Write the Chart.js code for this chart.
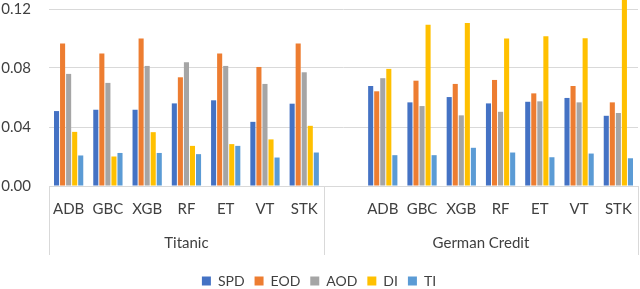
<!DOCTYPE html>
<html>
<head>
<meta charset="utf-8">
<script src="https://cdn.jsdelivr.net/npm/chart.js@4.4.1/dist/chart.umd.min.js"></script>
<style>
html,body{margin:0;padding:0;background:#fff;}
#wrap{width:640px;height:289px;position:relative;}
</style>
</head>
<body>
<div id="wrap"><canvas id="c" width="640" height="289"></canvas></div>
<script>
// ---- data ----
const titanicLabels = ['ADB','GBC','XGB','RF','ET','VT','STK'];
const germanLabels  = ['ADB','GBC','XGB','RF','ET','VT','STK'];
const groupLabels   = ['Titanic','German Credit'];
const seriesNames   = ['SPD','EOD','AOD','DI','TI'];
const yTicks        = [0, 0.04, 0.08, 0.12];

const spdTitanic = [0.0508, 0.0517, 0.0517, 0.0560, 0.0581, 0.0435, 0.0558];
const eodTitanic = [0.0966, 0.0898, 0.1000, 0.0737, 0.0898, 0.0807, 0.0966];
const aodTitanic = [0.0760, 0.0699, 0.0814, 0.0839, 0.0814, 0.0692, 0.0771];
const diTitanic  = [0.0367, 0.0200, 0.0365, 0.0272, 0.0284, 0.0316, 0.0408];
const tiTitanic  = [0.0207, 0.0224, 0.0224, 0.0216, 0.0272, 0.0193, 0.0227];

const spdGerman = [0.0678, 0.0567, 0.0603, 0.0560, 0.0571, 0.0597, 0.0476];
const eodGerman = [0.0642, 0.0714, 0.0692, 0.0719, 0.0628, 0.0678, 0.0567];
const aodGerman = [0.0731, 0.0542, 0.0479, 0.0503, 0.0574, 0.0567, 0.0495];
const diGerman  = [0.0794, 0.1093, 0.1105, 0.1000, 0.1016, 0.1002, 0.1350];
const tiGerman  = [0.0209, 0.0209, 0.0259, 0.0227, 0.0195, 0.0220, 0.0188];

const colors = ['#4472C4','#ED7D31','#A5A5A5','#FFC000','#5B9BD5'];

// ---- build ----
const labels = [...titanicLabels, '', ...germanLabels];
const join = (a, b) => [...a, null, ...b];
const seriesData = [
  join(spdTitanic, spdGerman),
  join(eodTitanic, eodGerman),
  join(aodTitanic, aodGerman),
  join(diTitanic, diGerman),
  join(tiTitanic, tiGerman)
];
const nT = titanicLabels.length;
const nAll = labels.length;
const groupCenters = [nT / 2, nT + (nAll - nT) / 2];
const groupBounds = [0, nT, nAll];

const FONT = 'Lato, "Open Sans", sans-serif';
const TXT = '#404040';
const LINE = '#d9d9d9';

const noPad = s => { s.paddingLeft = 0; s.paddingRight = 0; s.paddingTop = 0; s.paddingBottom = 0; };

const separators = {
  id: 'separators',
  afterLayout(chart) {
    chart.legend.top += 9;
    chart.legend.bottom += 9;
  },
  afterDraw(chart) {
    const x = chart.scales.x;
    const x2 = chart.scales.x2;
    const ctx = chart.ctx;
    const slot = (x.getPixelForValue(1) - x.getPixelForValue(0));
    ctx.save();
    ctx.strokeStyle = LINE;
    ctx.lineWidth = 1;
    groupBounds.forEach(v => {
      const px = Math.round(x.getPixelForValue(0) - slot / 2 + v * slot) + 0.5;
      ctx.beginPath();
      ctx.moveTo(px, chart.chartArea.bottom);
      ctx.lineTo(px, x2.bottom);
      ctx.stroke();
    });
    ctx.restore();
  }
};

new Chart(document.getElementById('c'), {
  type: 'bar',
  data: {
    labels: labels,
    datasets: seriesNames.map((n, i) => ({
      label: n,
      data: seriesData[i],
      backgroundColor: colors[i],
      borderWidth: 0,
      categoryPercentage: 0.77,
      barPercentage: 0.84,
      clip: false
    }))
  },
  options: {
    responsive: false,
    animation: false,
    layout: { padding: { top: 9, right: 2, left: 0, bottom: 0 } },
    plugins: {
      legend: {
        position: 'bottom',
        labels: {
          boxWidth: 9, boxHeight: 9, padding: 10,
          color: TXT,
          font: { family: FONT, size: 14 }
        }
      },
      tooltip: { enabled: false }
    },
    scales: {
      y: {
        min: 0, max: 0.12,
        afterBuildTicks: s => { s.ticks = yTicks.map(v => ({ value: v })); },
        afterFit: s => { s.width = 49; noPad(s); },
        grid: { color: LINE, drawTicks: false },
        border: { display: false },
        ticks: {
          padding: 18,
          color: TXT,
          font: { family: FONT, size: 15 },
          callback: v => Number(v).toFixed(2)
        }
      },
      x: {
        type: 'category',
        offset: true,
        afterFit: s => { s.height = 40; noPad(s); },
        grid: { display: false, drawTicks: false },
        border: { display: true, color: LINE },
        ticks: {
          padding: 14,
          autoSkip: false, maxRotation: 0,
          color: TXT,
          font: { family: FONT, size: 15 }
        }
      },
      x2: {
        type: 'linear',
        position: 'bottom',
        offset: false,
        min: 0, max: nAll,
        afterBuildTicks: s => { s.ticks = groupCenters.map(v => ({ value: v })); },
        afterFit: s => { s.height = 29; noPad(s); },
        grid: { display: false, drawTicks: false },
        border: { display: false },
        ticks: {
          padding: 8,
          autoSkip: false, maxRotation: 0,
          color: TXT,
          font: { family: FONT, size: 15 },
          callback: v => groupLabels[groupCenters.indexOf(v)]
        }
      }
    }
  },
  plugins: [separators]
});
</script>
</body>
</html>
